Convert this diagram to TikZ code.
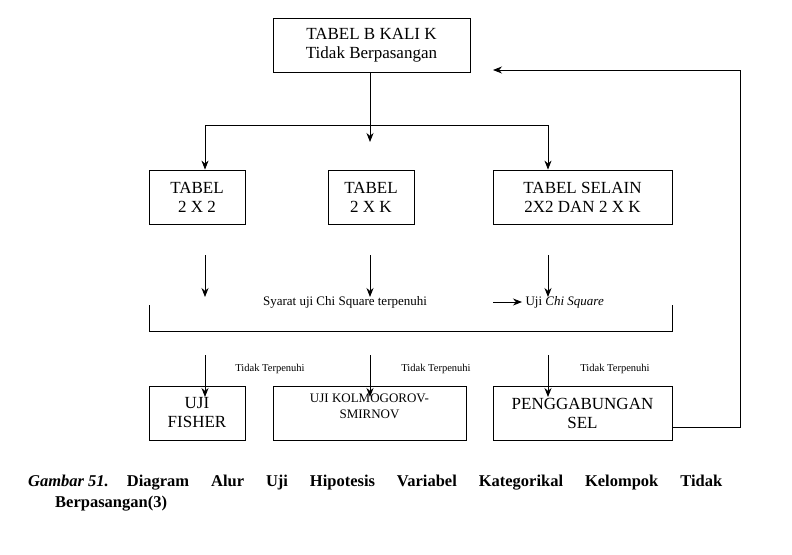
\documentclass[tikz,border=0pt]{standalone}
\usepackage{fontspec}
\setmainfont{Liberation Serif}
\usetikzlibrary{arrows.meta}
\begin{document}
\begin{tikzpicture}[x=1pt,y=-1pt,
  box/.style={draw,thick,align=center,font=\fontsize{17}{19}\selectfont,inner sep=0pt},
  arr/.style={-{Stealth[length=9pt,width=7pt]},thick},
  lab/.style={font=\fontsize{10.5}{12}\selectfont}]
\useasboundingbox (0,0) rectangle (792,554);
\node[box,minimum width=197,minimum height=54] (top) at (371.5,45) {TABEL B KALI K\\Tidak Berpasangan};
\node[box,minimum width=96,minimum height=54] (a) at (197,197) {TABEL\\2 X 2};
\node[box,minimum width=86,minimum height=54] (b) at (371,197) {TABEL\\2 X K};
\node[box,minimum width=179,minimum height=54] (c) at (582.5,197) {TABEL SELAIN\\2X2 DAN 2 X K};
\node[box,minimum width=96,minimum height=54] (d) at (197,413) {UJI\\FISHER};
\node[draw,thick,minimum width=193,minimum height=54,inner sep=0pt] (e) at (369.5,413) {};
\node[align=center,font=\fontsize{13}{16}\selectfont,anchor=north] (et) at (e.north) [yshift=-5] {UJI KOLMOGOROV-\\SMIRNOV};
\node[box,minimum width=179,minimum height=54] (f) at (582.5,413) {PENGGABUNGAN\\SEL};
\draw[arr] (top.south -| 370,0) -- (370,142);
\draw[thick] (205,125) -- (548,125);
\draw[arr] (205,125) -- (a.north -| 205,0);
\draw[arr] (548,125) -- (c.north -| 548,0);
\foreach \x in {205,370,548}{
  \draw[arr] (\x,255) -- (\x,297);
  \draw[arr] (\x,355) -- (\x,397);}
\node[font=\fontsize{13}{14}\selectfont] (s) at (345,302) {Syarat uji Chi Square terpenuhi};
\coordinate (u1) at (493,302);
\node[font=\fontsize{13}{14}\selectfont,anchor=west] (u) at (522,302) {Uji \textit{Chi Square}};
\draw[arr] (u1) -- (u.west);
\draw[thick] (149,305) -- (149,331) -- (672,331) -- (672,305);
\node[lab] (l1) at (270,369) {Tidak Terpenuhi};
\node[lab] (l2) at (436,369) {Tidak Terpenuhi};
\node[lab] (l3) at (615,369) {Tidak Terpenuhi};
\coordinate (fb) at (740,427);
\coordinate (fe) at (493,70);
\draw[arr] (f.east |- fb) -- (fb) -- (740,70) -- (fe);
\node[anchor=west,font=\bfseries\fontsize{16.5}{18}\selectfont,text width=694pt,align=justify,inner sep=0pt] (cap1) at (28,483) {\textit{Gambar 51.}\hspace{18pt}Diagram\hfill Alur\hfill Uji\hfill Hipotesis\hfill Variabel\hfill Kategorikal\hfill Kelompok\hfill Tidak};
\node[anchor=west,font=\bfseries\fontsize{16.5}{18}\selectfont,inner sep=0pt] (cap2) at (55,504) {Berpasangan(3)};
\end{tikzpicture}
\end{document}
